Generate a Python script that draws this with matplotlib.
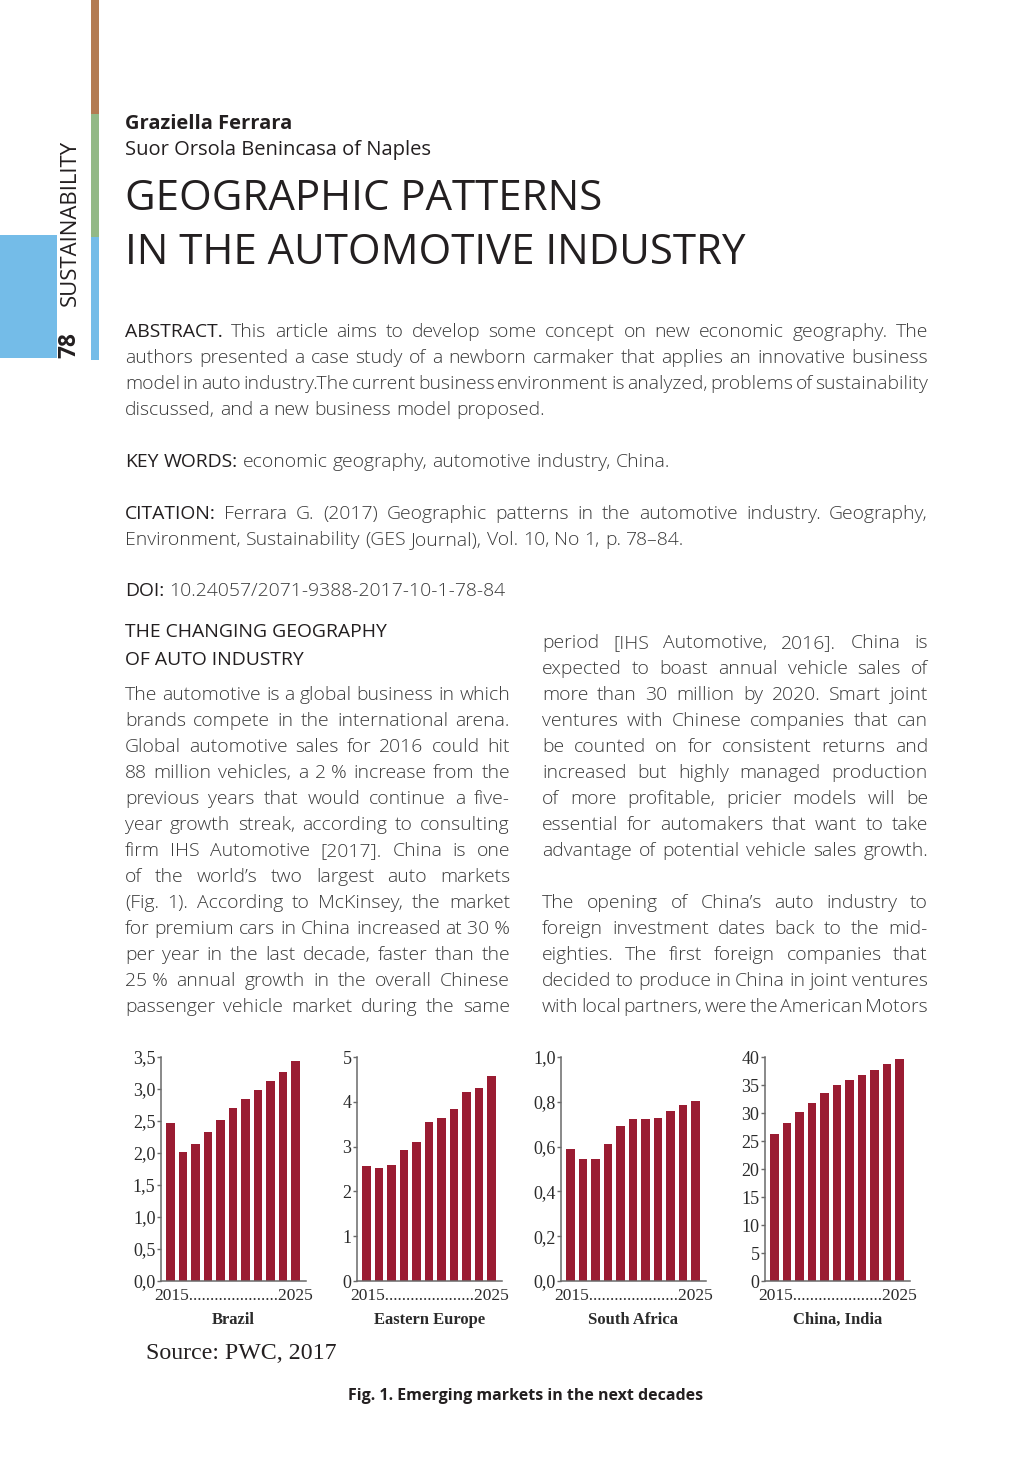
import matplotlib
matplotlib.use("Agg")
import matplotlib.pyplot as plt
from matplotlib.patches import Rectangle
from matplotlib.ticker import FuncFormatter, MultipleLocator

# ---- chart data (million vehicles, 2015..2025) ----
years = list(range(2015, 2026))
brazil = [2.47, 2.01, 2.14, 2.33, 2.51, 2.70, 2.85, 2.99, 3.13, 3.27, 3.43]
eastern_europe = [2.57, 2.52, 2.58, 2.93, 3.11, 3.55, 3.64, 3.84, 4.22, 4.31, 4.58]
south_africa = [0.588, 0.545, 0.545, 0.610, 0.690, 0.722, 0.722, 0.728, 0.760, 0.785, 0.803]
china_india = [26.3, 28.2, 30.1, 31.8, 33.6, 35.0, 35.9, 36.7, 37.6, 38.7, 39.6]

regions = ["Brazil", "Eastern Europe", "South Africa", "China, India"]
series = [brazil, eastern_europe, south_africa, china_india]
y_tops = [3.5, 5, 1.0, 40]
y_steps = [0.5, 1, 0.2, 5]
decimal_ticks = [True, False, True, False]

# ---- page text ----
abstract = [
    "ABSTRACT. This article aims to develop some concept on new economic geography. The",
    "authors presented a case study of a newborn carmaker that applies an innovative business",
    "model in auto industry.The current business environment is analyzed, problems of sustainability",
    "discussed, and a new business model proposed.",
]
keywords = ["KEY WORDS: economic geography, automotive industry, China."]
citation = [
    "CITATION: Ferrara G. (2017) Geographic patterns in the automotive industry. Geography,",
    "Environment, Sustainability (GES Journal), Vol. 10, No 1, p. 78\u201384.",
]
doi = ["DOI: 10.24057/2071-9388-2017-10-1-78-84"]
left_col = [
    "The automotive is a global business in which",
    "brands compete in the international arena.",
    "Global automotive sales for 2016 could hit",
    "88 million vehicles, a 2\u00a0% increase from the",
    "previous years that would continue a five-",
    "year growth streak, according to consulting",
    "firm IHS Automotive [2017]. China is one",
    "of the world\u2019s two largest auto markets",
    "(Fig. 1). According to McKinsey, the market",
    "for premium cars in China increased at 30\u00a0%",
    "per year in the last decade, faster than the",
    "25\u00a0% annual growth in the overall Chinese",
    "passenger vehicle market during the same",
]
right_col_1 = [
    "period [IHS Automotive, 2016]. China is",
    "expected to boast annual vehicle sales of",
    "more than 30 million by 2020. Smart joint",
    "ventures with Chinese companies that can",
    "be counted on for consistent returns and",
    "increased but highly managed production",
    "of more profitable, pricier models will be",
    "essential for automakers that want to take",
    "advantage of potential vehicle sales growth.",
]
right_col_2 = [
    "The opening of China\u2019s auto industry to",
    "foreign investment dates back to the mid-",
    "eighties. The first foreign companies that",
    "decided to produce in China in joint ventures",
    "with local partners, were the American Motors",
]

SANS = ["Open Sans", "DejaVu Sans"]
SERIF = ["Liberation Serif", "DejaVu Serif"]
DARK = "#231f20"
BODY = dict(family=SANS, fontweight="light", color="#3a3a3a")
LABEL = dict(family=SANS, fontweight="normal", color=DARK)

W, H = 1020, 1483
fig = plt.figure(figsize=(W / 100, H / 100), dpi=100)
page = fig.add_axes([0, 0, 1, 1])
page.set_xlim(0, W)
page.set_ylim(H, 0)
page.axis("off")
r = fig.canvas.get_renderer()


def measure(s, size, **kw):
    t = page.text(0, 0, s, fontsize=size, **kw)
    w = t.get_window_extent(r).width
    t.remove()
    return w


def fit(x, y, s, width, rotation=0, **kw):
    t = page.text(x, y, s, fontsize=20, **kw)
    w = t.get_window_extent(r).width
    t.set_fontsize(20 * width / w)
    t.set_rotation(rotation)
    return t


def justify(lines, x0, x1, y, size, lead=26, label=0, last_natural=True):
    space = measure("a a", size, **BODY) - measure("aa", size, **BODY)
    for i, line in enumerate(lines):
        words = line.split(" ")
        styles = [LABEL if (i == 0 and j < label) else BODY for j in range(len(words))]
        widths = [measure(w, size, **st) for w, st in zip(words, styles)]
        if (i == len(lines) - 1 and last_natural) or len(words) == 1:
            gap = space
        else:
            gap = (x1 - x0 - sum(widths)) / (len(words) - 1)
        x = x0
        for w, st, wd in zip(words, styles, widths):
            page.text(x, y + i * lead, w, fontsize=size, va="baseline", ha="left", **st)
            x += wd + gap


# common body size: up to 14.5pt, justified lines may squeeze spaces to 55 %
ref = 14.5
ref_space = measure("a a", ref, **BODY) - measure("aa", ref, **BODY)
body_size = ref
for lines, width, last in [(abstract, 803, True), (citation, 803, True),
                           (left_col, 385, False), (right_col_1, 386, False),
                           (right_col_2, 386, False)]:
    for line in (lines[:-1] if last else lines):
        words = line.split(" ")
        need = sum(measure(w, ref, **BODY) for w in words) + 0.55 * ref_space * (len(words) - 1)
        body_size = min(body_size, ref * width / need)

# ---- sidebar ----
page.add_patch(Rectangle((91, 0), 8, 114, color="#b37b52", lw=0))
page.add_patch(Rectangle((91, 114), 8, 123, color="#93b986", lw=0))
page.add_patch(Rectangle((91, 237), 8, 123, color="#74bce8", lw=0))
page.add_patch(Rectangle((0, 235), 57, 123, color="#74bce8", lw=0))
fit(81, 223, "SUSTAINABILITY", 166, rotation=90, family=SANS, color=DARK,
    ha="right", va="center")
fit(81, 345, "78", 26, rotation=90, family=SANS, fontweight="bold", color=DARK,
    ha="right", va="center")

# ---- header ----
fit(125, 129, "Graziella Ferrara", 167, family=SANS, fontweight="bold", color=DARK,
    va="baseline")
fit(125, 155, "Suor Orsola Benincasa of Naples", 306, family=SANS, color=DARK,
    va="baseline")
t2 = fit(125, 264, "IN THE AUTOMOTIVE INDUSTRY", 620, family=SANS, color=DARK,
         va="baseline")
page.text(125, 210, "GEOGRAPHIC PATTERNS", fontsize=t2.get_fontsize(), family=SANS,
          color=DARK, va="baseline")

# ---- abstract block ----
justify(abstract, 125, 928, 337, body_size, label=1)
justify(keywords, 125, 928, 467, body_size, label=2)
justify(citation, 125, 928, 519, body_size, label=1)
justify(doi, 125, 928, 596, body_size, label=1)

# ---- columns ----
page.text(125, 637, "THE CHANGING GEOGRAPHY", fontsize=body_size, va="baseline", **LABEL)
page.text(125, 665, "OF AUTO INDUSTRY", fontsize=body_size, va="baseline", **LABEL)
justify(left_col, 125, 510, 700, body_size, last_natural=False)
justify(right_col_1, 542, 928, 648, body_size, last_natural=False)
justify(right_col_2, 542, 928, 908, body_size, last_natural=False)

# ---- charts ----
lefts = [161, 357, 561, 765]
ax_w, ax_top, ax_bot = 145, 1057, 1281
x = list(range(len(years)))
for left, name, vals, top, step, dec in zip(lefts, regions, series, y_tops, y_steps,
                                           decimal_ticks):
    ax = fig.add_axes([left / W, 1 - ax_bot / H, ax_w / W, (ax_bot - ax_top) / H])
    ax.bar(x, vals, width=0.68, color="#9a1c32")
    ax.set_xlim(-0.78, 10.85)
    ax.set_ylim(0, top)
    ax.yaxis.set_major_locator(MultipleLocator(step))
    if dec:
        ax.yaxis.set_major_formatter(FuncFormatter(lambda v, _: f"{v:.1f}".replace(".", ",")))
    else:
        ax.yaxis.set_major_formatter(FuncFormatter(lambda v, _: f"{v:.0f}"))
    ax.set_xticks([])
    for s in ["top", "right"]:
        ax.spines[s].set_visible(False)
    for s in ["left", "bottom"]:
        ax.spines[s].set_color("#6a6a6a")
        ax.spines[s].set_linewidth(1.1)
    ax.tick_params(axis="y", length=3, width=1, color="#6a6a6a", pad=1,
                   labelsize=13, labelcolor="#2b2b2b", labelfontfamily=SERIF)
    ax.set_facecolor("none")
    ax.annotate(f"{years[0]}" + "." * 21 + f"{years[-1]}", xy=(0.5, 0),
                xycoords="axes fraction", xytext=(0, -15), textcoords="offset pixels",
                ha="center", va="center", fontsize=12.5, family=SERIF, color="#2b2b2b")
    ax.annotate(name, xy=(0.5, 0), xycoords="axes fraction", xytext=(0, -39),
                textcoords="offset pixels", ha="center", va="center", fontsize=12,
                fontweight="bold", family=SERIF, color="#2b2b2b")

fit(146, 1359, "Source: PWC, 2017", 190, family=SERIF, color=DARK, va="baseline")
fit(348, 1400, "Fig. 1. Emerging markets in the next decades", 356, family=SANS,
    fontweight="bold", color=DARK, va="baseline")

fig.savefig("out.png", dpi=100, facecolor="white")
